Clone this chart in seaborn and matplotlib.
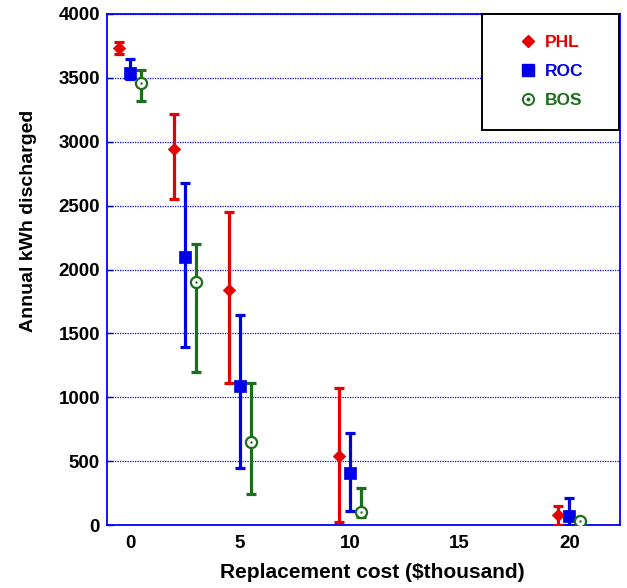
import numpy as np
import pandas as pd
import matplotlib
matplotlib.use("Agg")
import matplotlib.pyplot as plt
from matplotlib.lines import Line2D
from matplotlib.patches import Rectangle
from matplotlib.legend_handler import HandlerTuple
import seaborn as sns

# ---- data ----
cost = [0, 2.5, 5, 10, 20]
cities = ["PHL", "ROC", "BOS"]
phl_mean = [3730, 2940, 1840, 540, 80]
phl_low = [3690, 2550, 1110, 20, 0]
phl_high = [3780, 3220, 2450, 1070, 150]
roc_mean = [3540, 2100, 1090, 410, 70]
roc_low = [3490, 1390, 450, 110, 0]
roc_high = [3650, 2680, 1640, 720, 210]
bos_mean = [3460, 1900, 650, 100, 35]
bos_low = [3320, 1200, 240, 60, 30]
bos_high = [3560, 2200, 1110, 290, 45]
yticks = [0, 500, 1000, 1500, 2000, 2500, 3000, 3500, 4000]
xticks = [0, 5, 10, 15, 20]

colors = {"PHL": "#e60000", "ROC": "#0000e6", "BOS": "#1b6e1b"}
offsets = {"PHL": -0.5, "ROC": 0.0, "BOS": 0.5}
means = {"PHL": phl_mean, "ROC": roc_mean, "BOS": bos_mean}
lows = {"PHL": phl_low, "ROC": roc_low, "BOS": bos_low}
highs = {"PHL": phl_high, "ROC": roc_high, "BOS": bos_high}

rows = []
for c in cities:
    for i, x in enumerate(cost):
        rows.append(dict(city=c, cost=x, xpos=x + offsets[c],
                         kwh=means[c][i], low=lows[c][i], high=highs[c][i]))
df = pd.DataFrame(rows)

sns.set_theme(style="white")
plt.rcParams["font.family"] = ["Liberation Sans", "DejaVu Sans"]
plt.rcParams["font.weight"] = "bold"

fig = plt.figure(figsize=(6.27, 5.88), dpi=100)
ax = fig.add_axes([107 / 627, 1 - 525 / 588, 513 / 627, 511 / 588])

for c in cities:
    d = df[df.city == c]
    ax.errorbar(d.xpos, d.kwh, yerr=[d.kwh - d.low, d.high - d.kwh], fmt="none",
                ecolor=colors[c], elinewidth=2.3, capsize=3.6, capthick=2.3, zorder=3)

d = df[df.city == "PHL"]
sns.scatterplot(data=d, x="xpos", y="kwh", marker="D", s=40, color=colors["PHL"],
                edgecolor=colors["PHL"], linewidth=0.5, ax=ax, zorder=4, legend=False)
d = df[df.city == "ROC"]
sns.scatterplot(data=d, x="xpos", y="kwh", marker="s", s=72, color=colors["ROC"],
                edgecolor=colors["ROC"], linewidth=0.5, ax=ax, zorder=4, legend=False)
d = df[df.city == "BOS"]
sns.scatterplot(data=d, x="xpos", y="kwh", marker="o", s=64, color=colors["BOS"],
                facecolor="white", edgecolor=colors["BOS"], linewidth=1.6, ax=ax,
                zorder=4, legend=False)
sns.scatterplot(data=d, x="xpos", y="kwh", marker="o", s=3, color=colors["BOS"],
                edgecolor=colors["BOS"], linewidth=0, ax=ax, zorder=5, legend=False)

ax.set_xlim(-1.05, 22.3)
ax.set_ylim(0, 4000)
ax.set_xticks(xticks)
ax.set_xticklabels([str(t) for t in xticks])
ax.set_yticks(yticks)
ax.set_yticklabels([str(t) for t in yticks])
ax.tick_params(axis="x", length=0, pad=7, labelsize=13.5)
ax.tick_params(axis="y", direction="in", length=4, width=1, color="#0000ff",
               pad=5, labelsize=13.5, left=True)
for lab in ax.get_xticklabels() + ax.get_yticklabels():
    lab.set_fontweight("bold")
    lab.set_color("black")

ax.yaxis.grid(True, linestyle=(0, (1, 1)), color="#0000ff", linewidth=0.9)
ax.xaxis.grid(False)
for s in ax.spines.values():
    s.set_color("#0000ff")
    s.set_linewidth(1.3)
    s.set_visible(True)

ax.set_xlabel("Replacement cost ($thousand)", fontsize=15, fontweight="bold",
              color="black")
ax.set_ylabel("Annual kWh discharged", fontsize=14, fontweight="bold",
              color="black")
ax.xaxis.set_label_coords(0.517, -0.074)
ax.yaxis.set_label_coords(-0.137, 0.595)

# legend box
rect = Rectangle((0.731, 0.773), 0.267, 0.227, transform=ax.transAxes,
                 facecolor="white", edgecolor="black", linewidth=1.4,
                 zorder=10, clip_on=False)
ax.add_patch(rect)
h_phl = Line2D([], [], marker="D", linestyle="none", color=colors["PHL"], markersize=6.5)
h_roc = Line2D([], [], marker="s", linestyle="none", color=colors["ROC"], markersize=9)
h_bos_c = Line2D([], [], marker="o", linestyle="none", markerfacecolor="white",
                 markeredgecolor=colors["BOS"], markeredgewidth=1.4, markersize=8)
h_bos_d = Line2D([], [], marker="o", linestyle="none", color=colors["BOS"], markersize=1.8)
leg = ax.legend([h_phl, h_roc, (h_bos_c, h_bos_d)], cities,
                handler_map={tuple: HandlerTuple(ndivide=1, pad=0)},
                loc="center", bbox_to_anchor=(0.866, 0.887), frameon=False,
                fontsize=12.5, handlelength=1.0, handletextpad=0.5, labelspacing=0.8)
leg.set_zorder(11)
for t, c in zip(leg.get_texts(), cities):
    t.set_color(colors[c])
    t.set_fontweight("bold")

fig.savefig("out.png", dpi=100, facecolor="white")
